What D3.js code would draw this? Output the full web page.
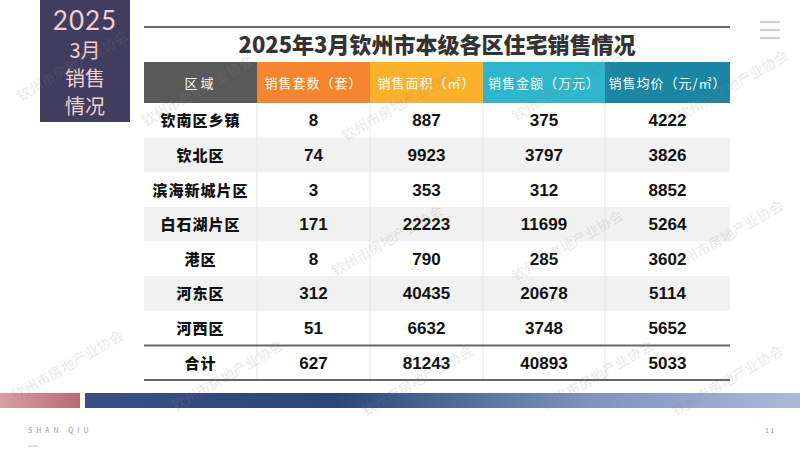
<!DOCTYPE html>
<html><head><meta charset="utf-8">
<script src="https://cdn.jsdelivr.net/npm/d3@7"></script>
<style>body{margin:0;background:#fff}svg{display:block;font-family:"Noto Sans CJK SC",sans-serif}</style>
</head><body><div id="chart"></div>
<script>
const title = "2025年3月钦州市本级各区住宅销售情况"
const headers = ["区域", "销售套数（套）", "销售面积（㎡）", "销售金额（万元）", "销售均价（元/㎡）"]
const headerColors = ["#595959", "#f5862f", "#fbb12b", "#2eb6cc", "#1b86a3"]
const districts = ["钦南区乡镇", "钦北区", "滨海新城片区", "白石湖片区", "港区", "河东区", "河西区", "合计"]
const units = [8, 74, 3, 171, 8, 312, 51, 627]
const area = [887, 9923, 353, 22223, 790, 40435, 6632, 81243]
const amount = [375, 3797, 312, 11699, 285, 20678, 3748, 40893]
const price = [4222, 3826, 8852, 5264, 3602, 5114, 5652, 5033]

const svg = d3.select("#chart").append("svg").attr("width", 800).attr("height", 450)

// left badge
svg.append("rect").attr("x", 40).attr("y", 0).attr("width", 90).attr("height", 122).attr("fill", "#403d5f")
const badge = [["2025", 26, 30, "Lato"], ["3月", 20, 58], ["销售", 20, 86], ["情况", 20, 114]]
badge.forEach(([t, s, y, f]) => svg.append("text").attr("x", 85).attr("y", y).attr("text-anchor", "middle")
  .attr("font-size", s).attr("fill", "#f0d0d0").attr("font-family", f || null).attr("letter-spacing", f ? 1 : 0).text(t))

// menu icon
;[22, 30, 38].forEach(y => svg.append("line").attr("x1", 760).attr("x2", 780).attr("y1", y).attr("y2", y).attr("stroke", "#c9b5b5").attr("stroke-width", 1.5))

const x = d3.scaleOrdinal().domain(d3.range(5)).range([144, 257, 370, 483, 605])
const colW = [113, 113, 113, 122, 125]
const y = d3.scaleBand().domain(d3.range(districts.length)).range([103, 380])

svg.append("line").attr("x1", 144).attr("x2", 730).attr("y1", 27).attr("y2", 27).attr("stroke", "#333").attr("stroke-width", 1.5)
svg.append("text").attr("x", 437).attr("y", 53).attr("text-anchor", "middle").attr("font-size", 22).attr("font-weight", 900).attr("fill", "#333").text(title)

// header
const hg = svg.append("g")
headers.forEach((h, i) => {
  hg.append("rect").attr("x", x(i)).attr("y", 62).attr("width", colW[i]).attr("height", 41).attr("fill", headerColors[i])
  hg.append("text").attr("x", x(i) + colW[i] / 2).attr("y", 88).attr("text-anchor", "middle").attr("font-size", 13).attr("letter-spacing", i === 0 ? 3 : 1).attr("fill", "#fff").text(h)
})

// rows
const cols = [districts, units, area, amount, price]
districts.forEach((d, r) => {
  if (r % 2 === 1 && r < 7) svg.append("rect").attr("x", 144).attr("y", y(r)).attr("width", 586).attr("height", y.bandwidth()).attr("fill", "#f1f1f1")
  cols.forEach((c, i) => svg.append("text").attr("x", x(i) + colW[i] / 2).attr("y", y(r) + y.bandwidth() / 2 + 6)
    .attr("text-anchor", "middle").attr("font-size", i === 0 ? 15 : 17).attr("font-weight", 900).attr("fill", "#111")
    .attr("letter-spacing", i === 0 ? 1 : 0)
    .attr("font-family", i === 0 ? null : "Liberation Sans").text(c[r]))
})
d3.range(1, 5).forEach(i => svg.append("line").attr("x1", x(i)).attr("x2", x(i)).attr("y1", 103).attr("y2", 380).attr("stroke", "#e6e6e6"))
;[y(7), 380].forEach(v => svg.append("line").attr("x1", 144).attr("x2", 730).attr("y1", v).attr("y2", v).attr("stroke", "#666").attr("stroke-width", 2))

// bottom band
const defs = svg.append("defs")
const g1 = defs.append("linearGradient").attr("id", "pk")
g1.append("stop").attr("offset", 0).attr("stop-color", "#d9a0a0")
g1.append("stop").attr("offset", 1).attr("stop-color", "#b86a72")
const g2 = defs.append("linearGradient").attr("id", "bl")
;[["0", "#3b4f86"], ["0.35", "#2c4478"], ["0.7", "#7d93bd"], ["1", "#a9bbd8"]].forEach(([o, c]) => g2.append("stop").attr("offset", o).attr("stop-color", c))
svg.append("rect").attr("x", 0).attr("y", 393).attr("width", 80).attr("height", 15).attr("fill", "url(#pk)")
svg.append("rect").attr("x", 85).attr("y", 393).attr("width", 715).attr("height", 15).attr("fill", "url(#bl)")
svg.append("text").attr("x", 28).attr("y", 433).attr("font-size", 7).attr("letter-spacing", 4).attr("fill", "#999").text("SHAN QIU")
svg.append("line").attr("x1", 28).attr("x2", 38).attr("y1", 446).attr("y2", 446).attr("stroke", "#bbb")
svg.append("text").attr("x", 765).attr("y", 433).attr("font-size", 7).attr("fill", "#999").text("1 1")

// watermarks
const wm = [[75, 70], [200, 95], [400, 110], [570, 90], [735, 90], [390, 245], [570, 250], [730, 240], [70, 370], [230, 380], [420, 385], [600, 380], [730, 385]]
wm.forEach(([a, b]) => svg.append("text").attr("transform", `translate(${a},${b}) rotate(-30)`).attr("text-anchor", "middle")
  .attr("font-size", 14).attr("fill", "#888").attr("opacity", 0.18).text("钦州市房地产业协会"))
</script></body></html>
